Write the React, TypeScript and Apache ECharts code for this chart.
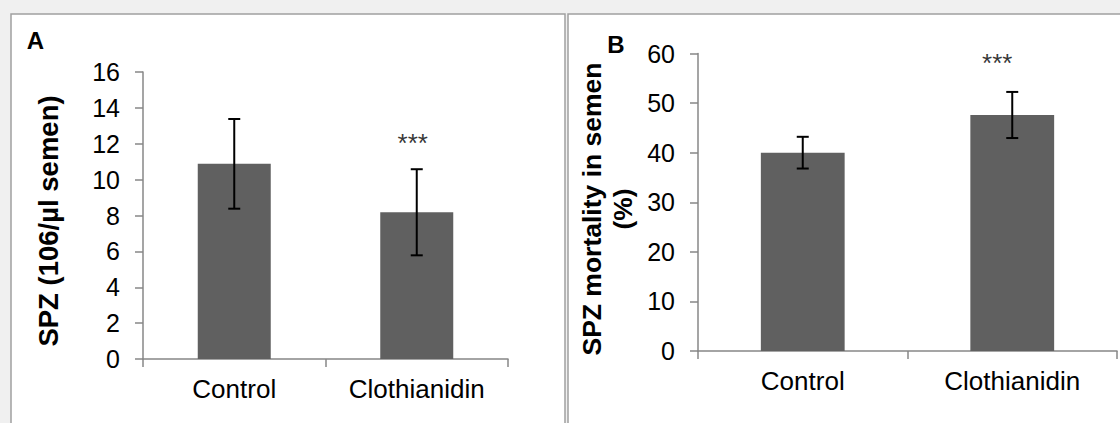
import React, { useEffect, useRef } from "react";
import * as echarts from "echarts";

const categories = ["Control", "Clothianidin"];
const spzMeans = [10.88, 8.18];
const spzErrors = [2.5, 2.4];
const mortalityMeans = [40.0, 47.6];
const mortalityErrors = [3.2, 4.65];
const spzStars = [null, 12.05];
const mortalityStars = [null, 58.0];
const spzTicks = { min: 0, max: 16, interval: 2 };
const mortalityTicks = { min: 0, max: 60, interval: 10 };

const FONT = "'Liberation Sans', Arial, sans-serif";
const AXIS_COLOR = "#878787";
const BAR_COLOR = "#606060";

function errorData(means: number[], errs: number[]) {
  return means.map((m, i) => [i, m - errs[i], m + errs[i]]);
}
function starData(stars: (number | null)[]) {
  return stars
    .map((v, i) => (v == null ? null : [i, v]))
    .filter((d) => d !== null);
}

const errorRender = (params: any, api: any) => {
  const x = api.value(0);
  const lo = api.coord([x, api.value(1)]);
  const hi = api.coord([x, api.value(2)]);
  const half = 6;
  const style = { stroke: "#000", lineWidth: 2 };
  return {
    type: "group",
    children: [
      { type: "line", shape: { x1: hi[0], y1: hi[1], x2: lo[0], y2: lo[1] }, style },
      { type: "line", shape: { x1: hi[0] - half, y1: hi[1], x2: hi[0] + half, y2: hi[1] }, style },
      { type: "line", shape: { x1: lo[0] - half, y1: lo[1], x2: lo[0] + half, y2: lo[1] }, style },
    ],
  };
};

function xAxisCfg(gridIndex: number) {
  return {
    type: "category",
    gridIndex,
    data: categories,
    boundaryGap: true,
    axisLine: { lineStyle: { color: AXIS_COLOR, width: 1.5 } },
    axisTick: { show: true, length: 8, lineStyle: { color: AXIS_COLOR, width: 1.5 } },
    axisLabel: { color: "#000", fontSize: 26, fontFamily: FONT, margin: 17 },
    splitLine: { show: false },
  };
}
function yAxisCfg(gridIndex: number, t: { min: number; max: number; interval: number }) {
  return {
    type: "value",
    gridIndex,
    min: t.min,
    max: t.max,
    interval: t.interval,
    axisLine: { show: true, lineStyle: { color: AXIS_COLOR, width: 1.5 } },
    axisTick: { show: true, length: 8, lineStyle: { color: AXIS_COLOR, width: 1.5 } },
    axisLabel: { color: "#000", fontSize: 25, fontFamily: FONT, margin: 23 },
    splitLine: { show: false },
  };
}

export default function App() {
  const ref = useRef<HTMLDivElement>(null);
  useEffect(() => {
    if (!ref.current) return;
    const chart = echarts.init(ref.current, null, { renderer: "svg" });
    chart.setOption({
      animation: false,
      backgroundColor: "#f0f0f0",
      textStyle: { fontFamily: FONT },
      graphic: [
        {
          type: "rect",
          z: -10,
          shape: { x: 11, y: 14, width: 554, height: 420 },
          style: { fill: "#fff", stroke: "#a0a0a0", lineWidth: 1.5 },
        },
        {
          type: "rect",
          z: -10,
          shape: { x: 568, y: 14, width: 560, height: 420 },
          style: { fill: "#fff", stroke: "#a0a0a0", lineWidth: 1.5 },
        },
        {
          type: "text",
          x: 35.5,
          y: 40,
          style: { text: "A", font: `bold 24px ${FONT}`, fill: "#000", align: "center", verticalAlign: "middle" },
        },
        {
          type: "text",
          x: 616,
          y: 44,
          style: { text: "B", font: `bold 24px ${FONT}`, fill: "#000", align: "center", verticalAlign: "middle" },
        },
        {
          type: "text",
          x: 48,
          y: 221,
          rotation: Math.PI / 2,
          style: {
            text: "SPZ (106/µl semen)",
            font: `bold 27.5px ${FONT}`,
            fill: "#000",
            align: "center",
            verticalAlign: "middle",
          },
        },
        {
          type: "text",
          x: 607,
          y: 209,
          rotation: Math.PI / 2,
          style: {
            text: "SPZ mortality in semen\n(%)",
            font: `bold 26.5px ${FONT}`,
            lineHeight: 31,
            fill: "#000",
            align: "center",
            verticalAlign: "middle",
          },
        },
      ],
      grid: [
        { left: 143, top: 72, width: 365, height: 287 },
        { left: 698, top: 53.5, width: 419, height: 297.5 },
      ],
      xAxis: [xAxisCfg(0), xAxisCfg(1)],
      yAxis: [yAxisCfg(0, spzTicks), yAxisCfg(1, mortalityTicks)],
      series: [
        {
          type: "bar",
          xAxisIndex: 0,
          yAxisIndex: 0,
          data: spzMeans,
          barWidth: "40%",
          itemStyle: { color: BAR_COLOR },
        },
        {
          type: "custom",
          xAxisIndex: 0,
          yAxisIndex: 0,
          data: errorData(spzMeans, spzErrors),
          renderItem: errorRender,
          z: 5,
        },
        {
          type: "scatter",
          xAxisIndex: 0,
          yAxisIndex: 0,
          data: starData(spzStars),
          symbolSize: 0,
          label: { show: true, position: "inside", formatter: "***", color: "#000", fontSize: 26, fontFamily: FONT, offset: [-4, 0] },
        },
        {
          type: "bar",
          xAxisIndex: 1,
          yAxisIndex: 1,
          data: mortalityMeans,
          barWidth: "40%",
          itemStyle: { color: BAR_COLOR },
        },
        {
          type: "custom",
          xAxisIndex: 1,
          yAxisIndex: 1,
          data: errorData(mortalityMeans, mortalityErrors),
          renderItem: errorRender,
          z: 5,
        },
        {
          type: "scatter",
          xAxisIndex: 1,
          yAxisIndex: 1,
          data: starData(mortalityStars),
          symbolSize: 0,
          label: { show: true, position: "inside", formatter: "***", color: "#000", fontSize: 26, fontFamily: FONT, offset: [-15, 0] },
        },
      ],
    });
    return () => chart.dispose();
  }, []);
  return (
    <div
      ref={ref}
      style={{ position: "absolute", left: 0, top: 0, width: 1120, height: 423 }}
    />
  );
}
